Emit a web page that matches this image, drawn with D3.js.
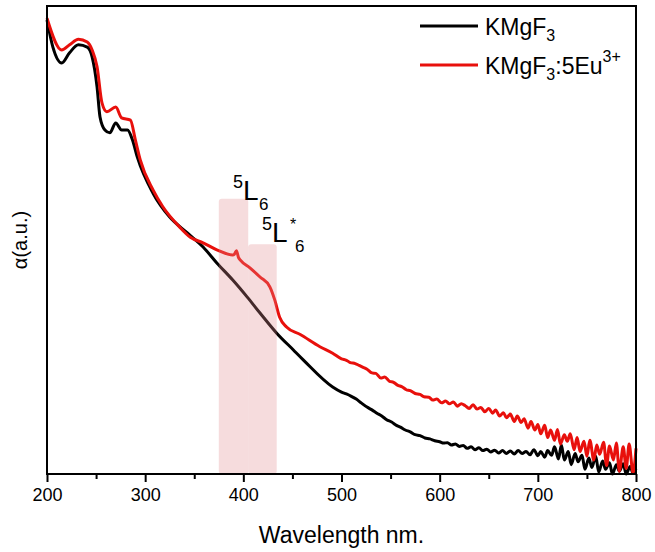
<!DOCTYPE html>
<html>
<head>
  <script src="https://cdn.jsdelivr.net/npm/d3@7"></script>
  <style>
    html, body { margin: 0; padding: 0; background: white; overflow: hidden; }
    svg { display: block; }
    text { font-family: "Liberation Sans", Arial, sans-serif; fill: black; }
  </style>
</head>
<body>
  <script>
    // wavelength (nm) vs absorption (a.u.)
    const hostWl = [200, 206, 215, 223, 232, 241, 246, 251, 254, 259, 264, 270, 276, 282, 287, 292,
      308, 325, 343, 359, 373, 389, 404, 417, 434, 451, 461, 491,
      500, 505, 510, 515, 520, 526, 531, 536, 541, 546, 551, 556, 560, 565, 570, 575,
      580, 585, 590, 595, 600, 604, 608, 612, 616, 620, 624, 628, 632, 636, 640, 644,
      648, 652, 656, 660, 664, 668, 672, 676, 680, 684, 688, 692, 696, 700, 703, 707,
      710, 714, 717, 721, 724, 727, 731, 734, 738, 741, 745, 748, 752, 755, 759, 762,
      766, 769, 773, 776, 780, 783, 787, 790, 794, 797, 800]
    const hostVal = [0.970, 0.912, 0.878, 0.900, 0.917, 0.912, 0.891, 0.827, 0.763, 0.735, 0.729, 0.750, 0.735, 0.735, 0.714, 0.677,
      0.600, 0.549, 0.515, 0.485, 0.451, 0.415, 0.378, 0.344, 0.301, 0.265, 0.244, 0.186,
      0.175, 0.171, 0.166, 0.160, 0.152, 0.143, 0.137, 0.130, 0.124, 0.116, 0.111, 0.104, 0.100, 0.094, 0.090, 0.084,
      0.082, 0.077, 0.075, 0.071, 0.069, 0.066, 0.067, 0.062, 0.064, 0.059, 0.061, 0.055, 0.058, 0.052, 0.056, 0.050,
      0.053, 0.047, 0.051, 0.045, 0.050, 0.044, 0.049, 0.043, 0.050, 0.044, 0.048, 0.041, 0.052, 0.039, 0.048, 0.036,
      0.050, 0.040, 0.058, 0.032, 0.062, 0.030, 0.048, 0.020, 0.044, 0.026, 0.040, 0.010, 0.034, 0.014, 0.038, 0.004,
      0.028, 0.010, 0.024, 0.000, 0.020, 0.006, 0.022, 0.000, 0.016, 0.002, 0.012]

    const dopedWl = [200, 215, 223, 232, 241, 246, 251, 256, 261, 270, 276, 285, 290, 295,
      308, 318, 335, 346, 359, 373, 389, 391, 393, 395, 397, 407, 417, 427, 432, 437, 444, 458, 478, 491,
      500, 505, 509, 514, 518, 522, 526, 531, 535, 540, 544, 549, 553, 557, 562, 566,
      570, 575, 580, 584, 589, 593, 597, 602, 606, 610, 614, 618, 622, 626, 630, 634,
      638, 642, 646, 650, 654, 657, 661, 665, 668, 672, 676, 679, 683, 686, 690, 693,
      697, 700, 703, 707, 710, 713, 717, 720, 723, 727, 730, 733, 737, 740, 743, 747,
      750, 753, 757, 760, 763, 767, 770, 773, 777, 780, 783, 787, 790, 793, 797, 800]
    const dopedVal = [0.974, 0.906, 0.917, 0.929, 0.923, 0.906, 0.870, 0.793, 0.774, 0.784, 0.761, 0.756, 0.714, 0.671,
      0.607, 0.571, 0.528, 0.506, 0.494, 0.479, 0.468, 0.470, 0.477, 0.463, 0.457, 0.440, 0.421, 0.400, 0.372, 0.335, 0.314, 0.298, 0.272, 0.258,
      0.246, 0.243, 0.238, 0.236, 0.232, 0.228, 0.224, 0.216, 0.215, 0.205, 0.207, 0.198, 0.196, 0.190, 0.186, 0.180,
      0.178, 0.172, 0.170, 0.165, 0.164, 0.158, 0.160, 0.152, 0.156, 0.150, 0.154, 0.145, 0.150, 0.146, 0.140, 0.148,
      0.139, 0.142, 0.133, 0.140, 0.130, 0.137, 0.124, 0.131, 0.120, 0.128, 0.112, 0.124, 0.110, 0.118, 0.098, 0.112,
      0.094, 0.106, 0.086, 0.104, 0.078, 0.094, 0.072, 0.095, 0.064, 0.084, 0.070, 0.086, 0.052, 0.078, 0.048, 0.070,
      0.038, 0.072, 0.030, 0.062, 0.042, 0.068, 0.018, 0.060, 0.030, 0.066, 0.006, 0.058, 0.012, 0.064, 0.002, 0.055]

    // highlighted bands: [from, to, height]
    const bands = [[375, 405, 0.588], [405, 434, 0.491]]
    const xTicks = [200, 300, 400, 500, 600, 700, 800]
    const xMinor = [250, 350, 450, 550, 650, 750]

    const W = 655, H = 552
    const m = { left: 47, right: 19, top: 6, bottom: 78 }

    const svg = d3.select('body').append('svg').attr('width', W).attr('height', H)

    const x = d3.scaleLinear().domain([200, 800]).range([m.left, W - m.right])
    const y = d3.scaleLinear().domain([0, 1]).range([H - m.bottom, m.top])

    const line = d3.line().x(d => x(d[0])).y(d => y(d[1])).curve(d3.curveMonotoneX)

    const host = d3.zip(hostWl, hostVal)
    const doped = d3.zip(dopedWl, dopedVal)

    svg.append('path').datum(host).attr('d', line)
      .attr('fill', 'none').attr('stroke', 'black').attr('stroke-width', 3)
    svg.append('path').datum(doped).attr('d', line)
      .attr('fill', 'none').attr('stroke', '#e8100c').attr('stroke-width', 3)

    svg.selectAll('rect.band').data(bands).join('rect')
      .attr('class', 'band')
      .attr('x', d => x(d[0]))
      .attr('width', d => x(d[1]) - x(d[0]))
      .attr('y', d => y(d[2]))
      .attr('height', d => y(0) - y(d[2]))
      .attr('rx', 3)
      .attr('fill', '#e08a8e')
      .attr('fill-opacity', 0.3)

    const xAxis = svg.append('g').attr('transform', `translate(0,${H - m.bottom})`)
      .call(d3.axisBottom(x).tickValues(xTicks).tickSize(8).tickPadding(6).tickFormat(d3.format('d')))
    xAxis.select('.domain').remove()
    xAxis.selectAll('line').attr('stroke-width', 2)
    xAxis.selectAll('text').attr('font-size', 18).attr('font-family', '"Liberation Sans", Arial, sans-serif')

    svg.append('g').attr('transform', `translate(0,${H - m.bottom})`)
      .call(d3.axisBottom(x).tickValues(xMinor).tickSize(5).tickFormat(''))
      .call(g => g.select('.domain').remove())
      .selectAll('line').attr('stroke-width', 2)

    svg.append('text').attr('x', (x(200) + x(800)) / 2).attr('y', 543)
      .attr('text-anchor', 'middle').attr('font-size', 23).text('Wavelength nm.')

    svg.append('text').attr('transform', `translate(27,${(m.top + H - m.bottom) / 2}) rotate(-90)`)
      .attr('text-anchor', 'middle').attr('font-size', 20).text('α(a.u.)')

    // legend; shift: 1 = subscript, -1 = superscript
    const legend = [
      { color: 'black', y: 26, parts: [['KMgF', 0], ['3', 1]] },
      { color: '#e8100c', y: 65, parts: [['KMgF', 0], ['3', 1], [':5Eu', 0], ['3+', -1]] }
    ]
    legend.forEach(l => {
      svg.append('line').attr('x1', 420).attr('x2', 478).attr('y1', l.y).attr('y2', l.y)
        .attr('stroke', l.color).attr('stroke-width', 3)
      const t = svg.append('text').attr('x', 485).attr('y', l.y + 9).attr('font-size', 23)
      let off = 0
      l.parts.forEach(([s, k]) => {
        const target = k === 1 ? 6 : k === -1 ? -12 : 0
        const ts = t.append('tspan').text(s).attr('dy', target - off)
        if (k !== 0) ts.attr('font-size', 16)
        off = target
      })
    })

    // band labels
    function term(xp, yp, star) {
      svg.append('text').attr('x', xp).attr('y', yp - 12).attr('font-size', 18).text('5')
      svg.append('text').attr('x', xp + 10).attr('y', yp).attr('font-size', 28).text('L')
      if (star) svg.append('text').attr('x', xp + 28).attr('y', yp - 12).attr('font-size', 16).text('*')
      svg.append('text').attr('x', xp + (star ? 33 : 26)).attr('y', yp + 10).attr('font-size', 17).text('6')
    }
    term(233, 200, false)
    term(262, 242, true)

    // plot frame on top of everything
    svg.append('path')
      .attr('d', `M${x(200)},${y(0)}V${y(1)}H${x(800)}V${y(0)}Z`)
      .attr('fill', 'none').attr('stroke', '#000').attr('stroke-width', 2)
  </script>
</body>
</html>
